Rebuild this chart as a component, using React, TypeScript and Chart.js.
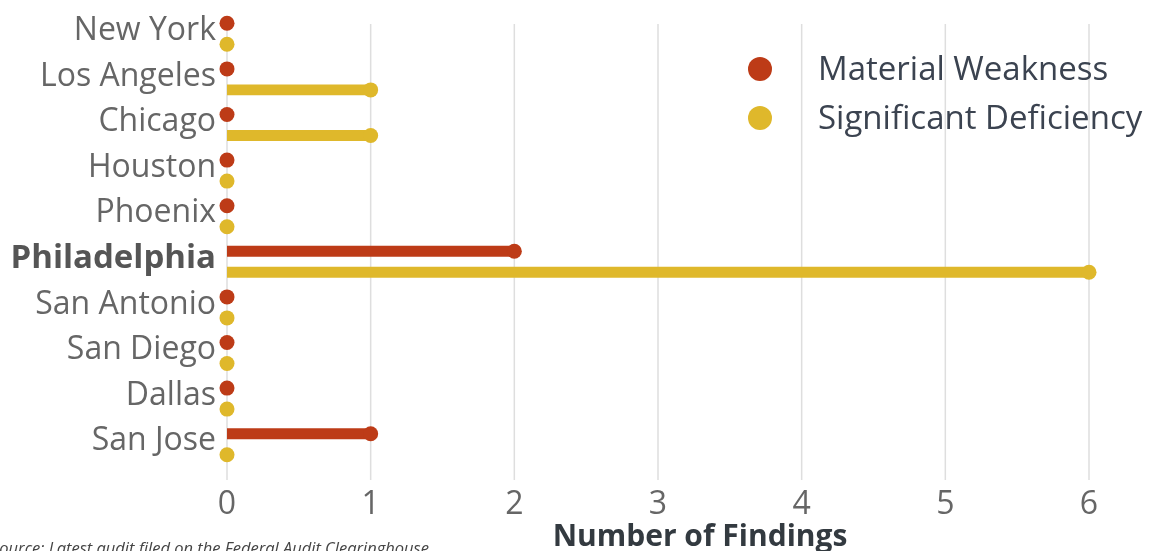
import React, { useEffect, useRef } from "react";
import { Chart, registerables } from "chart.js";

Chart.register(...registerables);

const categories = [
  "New York",
  "Los Angeles",
  "Chicago",
  "Houston",
  "Phoenix",
  "Philadelphia",
  "San Antonio",
  "San Diego",
  "Dallas",
  "San Jose",
];
const materialWeakness = [0, 0, 0, 0, 0, 2, 0, 0, 0, 1];
const significantDeficiency = [0, 1, 1, 0, 0, 6, 0, 0, 0, 0];
const seriesLabels = ["Material Weakness", "Significant Deficiency"];
const seriesColors = ["#BD3B17", "#DFB82B"];
const highlightCity = "Philadelphia";
const xAxisTitle = "Number of Findings";
const sourceNote = "Source: Latest audit filed on the Federal Audit Clearinghouse";

const FONT = "'Open Sans', 'Noto Sans', sans-serif";

const gridPlugin = {
  id: "customGrid",
  beforeDatasetsDraw(chart: any) {
    const { ctx, chartArea, scales } = chart;
    const xs = scales.x;
    ctx.save();
    ctx.strokeStyle = "#dedede";
    ctx.lineWidth = 1.5;
    xs.ticks.forEach((t: any) => {
      const x = xs.getPixelForValue(t.value);
      ctx.beginPath();
      ctx.moveTo(x, chartArea.top + 13);
      ctx.lineTo(x, chartArea.bottom + 13);
      ctx.stroke();
    });
    ctx.restore();
  },
};

const dotPlugin = {
  id: "lollipopDots",
  afterDatasetsDraw(chart: any) {
    const { ctx } = chart;
    ctx.save();
    chart.data.datasets.forEach((ds: any, i: number) => {
      const meta = chart.getDatasetMeta(i);
      meta.data.forEach((el: any) => {
        const { x, y } = el.getProps(["x", "y"], true);
        ctx.beginPath();
        ctx.arc(x, y, 7.5, 0, Math.PI * 2);
        ctx.fillStyle = ds.backgroundColor;
        ctx.fill();
      });
    });
    ctx.restore();
  },
};

const decorPlugin = {
  id: "decor",
  afterDraw(chart: any) {
    const { ctx } = chart;
    ctx.save();
    // legend
    chart.data.datasets.forEach((ds: any, i: number) => {
      const cy = 69 + i * 49;
      ctx.beginPath();
      ctx.arc(760, cy, 12, 0, Math.PI * 2);
      ctx.fillStyle = ds.backgroundColor;
      ctx.fill();
      ctx.fillStyle = "#3b4350";
      ctx.font = `33px ${FONT}`;
      ctx.textAlign = "left";
      ctx.textBaseline = "middle";
      ctx.fillText(ds.label, 818, cy + 2);
    });
    // x axis title
    ctx.fillStyle = "#333a40";
    ctx.font = `bold 30px ${FONT}`;
    ctx.textAlign = "center";
    ctx.textBaseline = "alphabetic";
    ctx.fillText(xAxisTitle, 700, 546);
    // source note
    ctx.fillStyle = "#444444";
    ctx.font = `italic 16.5px ${FONT}`;
    ctx.textAlign = "left";
    ctx.fillText(sourceNote, -9, 554);
    ctx.restore();
  },
};

export default function App() {
  const ref = useRef<HTMLCanvasElement | null>(null);

  useEffect(() => {
    if (!ref.current) return;
    const chart = new Chart(ref.current, {
      type: "bar",
      data: {
        labels: categories,
        datasets: [
          {
            label: seriesLabels[0],
            data: materialWeakness,
            backgroundColor: seriesColors[0],
            categoryPercentage: 0.92,
            barPercentage: 0.52,
          },
          {
            label: seriesLabels[1],
            data: significantDeficiency,
            backgroundColor: seriesColors[1],
            categoryPercentage: 0.92,
            barPercentage: 0.52,
          },
        ],
      },
      options: {
        indexAxis: "y",
        animation: false,
        responsive: false,
        maintainAspectRatio: false,
        layout: { padding: { top: 11, right: 61, left: 0, bottom: 0 } },
        plugins: {
          legend: { display: false },
          tooltip: { enabled: false },
          title: { display: false },
        },
        scales: {
          x: {
            min: 0,
            max: 6,
            grid: { display: false, drawTicks: false },
            border: { display: false },
            ticks: {
              stepSize: 1,
              color: "#666666",
              padding: 19,
              font: { family: FONT, size: 32 },
            },
            afterFit: (s: any) => {
              s.height = 84;
              s.paddingLeft = 0;
              s.paddingRight = 0;
            },
          },
          y: {
            grid: { display: false, drawTicks: false },
            border: { display: false },
            ticks: {
              padding: 11,
              labelOffset: -3,
              color: (c: any) =>
                categories[c.index] === highlightCity ? "#555555" : "#666666",
              font: (c: any) =>
                categories[c.index] === highlightCity
                  ? { family: FONT, size: 33, weight: "bold" }
                  : { family: FONT, size: 32 },
            },
            afterFit: (s: any) => {
              s.width = 227;
              s.paddingTop = 0;
              s.paddingBottom = 0;
            },
          },
        },
      },
      plugins: [gridPlugin, dotPlugin, decorPlugin],
    } as any);
    return () => chart.destroy();
  }, []);

  return (
    <div
      style={{
        position: "absolute",
        left: 0,
        top: 0,
        width: 1150,
        height: 551,
        background: "#ffffff",
      }}
    >
      <canvas ref={ref} width={1150} height={551} style={{ display: "block" }} />
    </div>
  );
}
